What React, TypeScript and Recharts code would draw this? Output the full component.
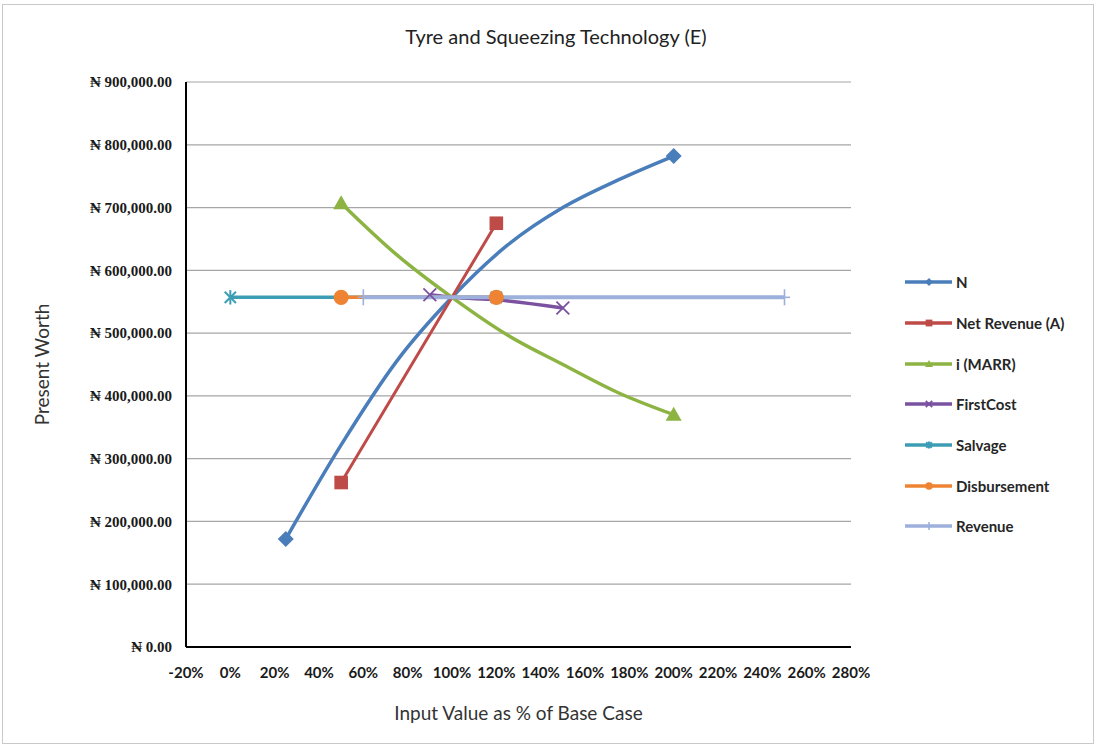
import { FC } from 'react';
import { LineChart, Line, XAxis, YAxis, CartesianGrid } from 'recharts';

// valores (x em % do caso base, y em Naira)
const nX = [25, 50, 75, 100, 125, 150, 175, 200];
const nY = [172000, 322000, 455000, 557000, 640000, 700000, 744000, 782000];

const netRevX = [50, 100, 120];
const netRevY = [262000, 557000, 675000];

const marrX = [50, 75, 100, 125, 150, 175, 200];
const marrY = [707000, 625000, 557000, 497000, 450000, 405000, 370000];

const firstCostX = [90, 100, 120, 150];
const firstCostY = [561000, 557000, 553000, 540000];

const salvageX = [0, 50, 100, 120];
const salvageY = [557000, 557000, 557000, 557000];

const disbX = [50, 120];
const disbY = [557000, 557000];

const revenueX = [60, 250];
const revenueY = [557000, 557000];

const xTicks = [-20, 0, 20, 40, 60, 80, 100, 120, 140, 160, 180, 200, 220, 240, 260, 280];
const yTicks = [0, 100000, 200000, 300000, 400000, 500000, 600000, 700000, 800000, 900000];

const toPoints = (xs: number[], ys: number[]) => xs.map((x, i) => ({ x, y: ys[i] }));

type Shape = 'diamond' | 'square' | 'triangle' | 'x' | 'star' | 'circle' | 'plus';

const series = [
  { name: 'N', data: toPoints(nX, nY), color: '#4A7EBB', shape: 'diamond' as Shape, width: 3.5 },
  { name: 'Net Revenue (A)', data: toPoints(netRevX, netRevY), color: '#BE4B48', shape: 'square' as Shape, width: 3 },
  { name: 'i (MARR)', data: toPoints(marrX, marrY), color: '#8DB443', shape: 'triangle' as Shape, width: 3.5 },
  { name: 'FirstCost', data: toPoints(firstCostX, firstCostY), color: '#7A52A0', shape: 'x' as Shape, width: 3.5 },
  { name: 'Salvage', data: toPoints(salvageX, salvageY), color: '#3C9DB5', shape: 'star' as Shape, width: 3.5 },
  { name: 'Disbursement', data: toPoints(disbX, disbY), color: '#EE8433', shape: 'circle' as Shape, width: 3.5 },
  { name: 'Revenue', data: toPoints(revenueX, revenueY), color: '#9DB0DC', shape: 'plus' as Shape, width: 4 },
];

const Marker: FC<{ shape: Shape; cx: number; cy: number; color: string; s: number }> = ({ shape, cx, cy, color, s }) => {
  switch (shape) {
    case 'diamond':
      return <polygon points={`${cx},${cy - s} ${cx + s},${cy} ${cx},${cy + s} ${cx - s},${cy}`} fill={color} />;
    case 'square':
      return <rect x={cx - s * 0.85} y={cy - s * 0.85} width={s * 1.7} height={s * 1.7} fill={color} />;
    case 'triangle':
      return <polygon points={`${cx},${cy - s} ${cx + s},${cy + s * 0.75} ${cx - s},${cy + s * 0.75}`} fill={color} />;
    case 'x':
      return (
        <g stroke={color} strokeWidth={1.8}>
          <line x1={cx - s * 0.8} y1={cy - s * 0.8} x2={cx + s * 0.8} y2={cy + s * 0.8} />
          <line x1={cx - s * 0.8} y1={cy + s * 0.8} x2={cx + s * 0.8} y2={cy - s * 0.8} />
        </g>
      );
    case 'star':
      return (
        <g stroke={color} strokeWidth={2}>
          <line x1={cx - s * 0.7} y1={cy - s * 0.7} x2={cx + s * 0.7} y2={cy + s * 0.7} />
          <line x1={cx - s * 0.7} y1={cy + s * 0.7} x2={cx + s * 0.7} y2={cy - s * 0.7} />
          <line x1={cx} y1={cy - s * 0.9} x2={cx} y2={cy + s * 0.9} />
        </g>
      );
    case 'circle':
      return <circle cx={cx} cy={cy} r={s * 0.95} fill={color} />;
    case 'plus':
    default:
      return (
        <g stroke={color} strokeWidth={1.6}>
          <line x1={cx} y1={cy - s} x2={cx} y2={cy + s} />
          <line x1={cx - s * 0.7} y1={cy} x2={cx + s * 0.7} y2={cy} />
        </g>
      );
  }
};

// marcadores só no primeiro e no último ponto, como no original
const endDots = (shape: Shape, color: string, count: number) => (props: any) => {
  const { cx, cy, index } = props;
  if (index !== 0 && index !== count - 1) return <g key={`e${index}`} />;
  return (
    <g key={`d${index}`}>
      <Marker shape={shape} cx={cx} cy={cy} color={color} s={8} />
    </g>
  );
};

const fmtY = (v: number) =>
  `₦ ${v.toLocaleString('en-US', { minimumFractionDigits: 2, maximumFractionDigits: 2 })}`;

const LegendBox = () => (
  <div
    style={{
      position: 'absolute', left: 904, top: 262, width: 190,
      fontFamily: 'Lato, sans-serif', fontSize: 15, fontWeight: 'bold', color: '#262626',
    }}
  >
    {series.map((s) => (
      <div key={s.name} style={{ display: 'flex', alignItems: 'center', height: 40.7 }}>
        <svg width={50} height={16}>
          <line x1={1} y1={8} x2={48} y2={8} stroke={s.color} strokeWidth={3.5} />
          <Marker shape={s.shape} cx={25} cy={8} color={s.color} s={4} />
        </svg>
        <span style={{ marginLeft: 2 }}>{s.name}</span>
      </div>
    ))}
  </div>
);

const App: FC = () => {
  return (
    <div style={{ position: 'absolute', left: 0, top: 0, width: 1098, height: 747, background: '#fff' }}>
      <div
        style={{
          position: 'absolute', left: 2, top: 4, width: 1092, height: 740,
          border: '1px solid #c9c9c9', boxSizing: 'border-box',
        }}
      />
      <div
        style={{
          position: 'absolute', left: 186, width: 740, top: 24, textAlign: 'center',
          fontFamily: 'Lato, sans-serif', fontSize: 20, color: '#222',
        }}
      >
        Tyre and Squeezing Technology (E)
      </div>
      <LineChart
        width={1098}
        height={747}
        margin={{ top: 82, right: 247, bottom: 35, left: 36 }}
        style={{ position: 'absolute', left: 0, top: 0 }}
      >
        <CartesianGrid vertical={false} stroke="#a6a6a6" strokeWidth={1.2} />
        <XAxis
          type="number"
          dataKey="x"
          domain={[-20, 280]}
          ticks={xTicks}
          interval={0}
          tickFormatter={(v: number) => `${v}%`}
          tickLine={false}
          axisLine={{ stroke: '#000', strokeWidth: 2 }}
          height={65}
          tick={{ fontFamily: 'Lato, sans-serif', fontSize: 15, fontWeight: 'bold', fill: '#1a1a1a', dy: 12 }}
          label={{
            value: 'Input Value as % of Base Case', position: 'insideBottom', offset: -8,
            style: { fontFamily: 'Lato, sans-serif', fontSize: 19, fill: '#333' },
          }}
        />
        <YAxis
          type="number"
          dataKey="y"
          domain={[0, 900000]}
          ticks={yTicks}
          interval={0}
          tickFormatter={fmtY}
          tickLine={false}
          axisLine={{ stroke: '#000', strokeWidth: 2 }}
          width={150}
          tick={{ fontFamily: '"Liberation Serif", "DejaVu Serif", serif', fontSize: 15, fontWeight: 'bold', fill: '#1a1a1a', dx: -6 }}
          label={{
            value: 'Present Worth', angle: -90, position: 'insideLeft', offset: 6,
            style: { fontFamily: 'Lato, sans-serif', fontSize: 19, fill: '#333', textAnchor: 'middle' },
          }}
        />
        {series.map((s) => (
          <Line
            key={s.name}
            data={s.data}
            dataKey="y"
            name={s.name}
            type="monotone"
            stroke={s.color}
            strokeWidth={s.width}
            dot={endDots(s.shape, s.color, s.data.length)}
            activeDot={false}
            isAnimationActive={false}
          />
        ))}
      </LineChart>
      <LegendBox />
    </div>
  );
};

export default App;
